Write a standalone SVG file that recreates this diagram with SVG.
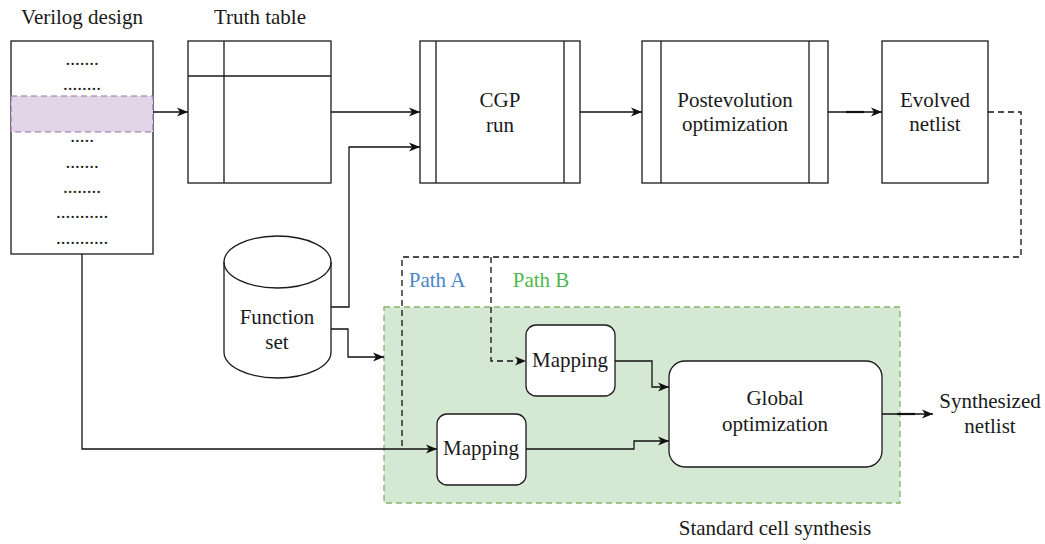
<svg xmlns="http://www.w3.org/2000/svg" width="1045" height="544" viewBox="0 0 1045 544" font-family="'Liberation Serif', 'Times New Roman', serif">
<style>
text{font-family:"Liberation Serif","Times New Roman",serif;font-size:21px;fill:#1a1a1a;text-anchor:middle}
.box{fill:#fff;stroke:#1a1a1a;stroke-width:1.3}
.ln{fill:none;stroke:#1a1a1a;stroke-width:1.3}
.conn{fill:none;stroke:#111;stroke-width:1.3}
.dash{stroke-dasharray:6 4}
</style>
<defs>
<marker id="arr" markerUnits="userSpaceOnUse" markerWidth="12" markerHeight="10" refX="11" refY="4.5" orient="auto" overflow="visible">
<path d="M0,0 L11,4.5 L0,9 L3,4.5 Z" fill="#111"/>
</marker>
</defs>
<rect width="1045" height="544" fill="#fff"/>

<g id="standard-cell-synthesis">
<rect x="384" y="307" width="516" height="196" fill="#d5e8d4" stroke="#82b366" stroke-width="1.3" stroke-dasharray="6 4"/>
<text x="775" y="535">Standard cell synthesis</text>
</g>

<g id="verilog-design">
<text x="82" y="24">Verilog design</text>
<rect class="box" x="11" y="41" width="142" height="213"/>
<rect x="11" y="96" width="142" height="36" fill="#e1d5e7" stroke="#9673a6" stroke-width="1.2" stroke-dasharray="6 4"/>
<text x="82" y="65" style="font-size:19px">.......</text>
<text x="82" y="90" style="font-size:19px">........</text>
<text x="82" y="142" style="font-size:19px">.....</text>
<text x="82" y="168" style="font-size:19px">.......</text>
<text x="82" y="193" style="font-size:19px">........</text>
<text x="82" y="218" style="font-size:19px">...........</text>
<text x="82" y="244" style="font-size:19px">...........</text>
</g>

<g id="truth-table">
<text x="260" y="24">Truth table</text>
<rect class="box" x="188" y="41" width="143" height="142"/>
<line class="ln" x1="224" y1="41" x2="224" y2="183"/>
<line class="ln" x1="188" y1="76" x2="331" y2="76"/>
</g>

<g id="cgp-run">
<rect class="box" x="420" y="41" width="160" height="142"/>
<line class="ln" x1="436" y1="41" x2="436" y2="183"/>
<line class="ln" x1="564" y1="41" x2="564" y2="183"/>
<text x="500" y="107">CGP</text>
<text x="500" y="132">run</text>
</g>

<g id="postevolution-optimization">
<rect class="box" x="642" y="41" width="186" height="142"/>
<line class="ln" x1="661" y1="41" x2="661" y2="183"/>
<line class="ln" x1="809" y1="41" x2="809" y2="183"/>
<text x="735" y="107">Postevolution</text>
<text x="735" y="131">optimization</text>
</g>

<g id="evolved-netlist">
<rect class="box" x="882" y="41" width="106" height="142"/>
<text x="935" y="107">Evolved</text>
<text x="935" y="131">netlist</text>
</g>

<g id="function-set">
<path class="box" d="M224,262 A53.5,26 0 0 1 331,262 V352 A53.5,26 0 0 1 224,352 Z"/>
<path class="ln" d="M224,262 A53.5,26 0 0 0 331,262"/>
<text x="277" y="324">Function</text>
<text x="277" y="349">set</text>
</g>

<g id="path-labels">
<text x="437" y="287" style="fill:#4a86c8">Path A</text>
<text x="541" y="287" style="fill:#4cb94c">Path B</text>
</g>

<g id="mapping-b">
<rect class="box" x="526" y="325" width="89" height="71" rx="10"/>
<text x="570" y="367">Mapping</text>
</g>

<g id="mapping-a">
<rect class="box" x="437" y="414" width="89" height="71" rx="10"/>
<text x="481" y="455">Mapping</text>
</g>

<g id="global-optimization">
<rect class="box" x="669" y="361" width="213" height="106" rx="16"/>
<text x="775" y="405">Global</text>
<text x="775" y="431">optimization</text>
</g>

<g id="synthesized-netlist">
<text x="990" y="408">Synthesized</text>
<text x="990" y="433">netlist</text>
</g>

<g id="connectors">
<path class="conn" d="M153,112 H188" marker-end="url(#arr)"/>
<path class="conn" d="M331,112 H420" marker-end="url(#arr)"/>
<path class="conn" d="M331,307 H349 V147 H420" marker-end="url(#arr)"/>
<path class="conn" d="M331,329 H348 V357 H384" marker-end="url(#arr)"/>
<path class="conn" d="M580,112 H642" marker-end="url(#arr)"/>
<path class="conn" d="M828,112 H882" marker-end="url(#arr)"/>
<path class="conn" d="M846,112 H864" style="stroke-width:2.2"/>
<path class="conn dash" d="M988,112 H1021 V257 H402 V449"/>
<path class="conn dash" d="M491,257 V361 H526" marker-end="url(#arr)"/>
<path class="conn" d="M82,254 V449 H437" marker-end="url(#arr)"/>
<path class="conn" d="M615,361 H652 V387 H669" marker-end="url(#arr)"/>
<path class="conn" d="M526,449 H634 V441 H669" marker-end="url(#arr)"/>
<path class="conn" d="M882,414 H933" marker-end="url(#arr)"/>
<path class="conn" d="M897,414 H915" style="stroke-width:2.2"/>
</g>
</svg>
